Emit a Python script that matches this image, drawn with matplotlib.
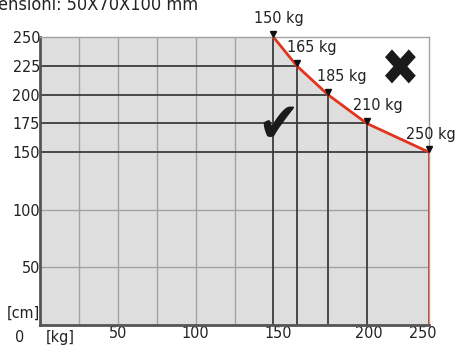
import matplotlib
matplotlib.use('Agg')
import matplotlib.pyplot as plt

plt.rcParams['font.family'] = ['DejaVu Sans']
plt.rcParams['font.stretch'] = 'condensed'

# max load per height
weights = [150, 165, 185, 210, 250]          # kg
heights = [250, 225, 200, 175, 150]          # cm
weight_labels = ['150 kg', '165 kg', '185 kg', '210 kg', '250 kg']
label_dx = [4, 11, 10, 8, 1]                 # px offset of the kg labels

ytick_vals = [50, 100, 150, 175, 200, 225, 250]
xtick_pos = [50, 100, 153, 211, 246]
xtick_txt = ['50', '100', '150', '200', '250']
light_grid_x = [25, 50, 75, 100, 125]
light_grid_y = [50, 100]

red = '#e2341d'
dark = '#3c3c3c'
light = '#a2a2a2'

fig = plt.figure(figsize=(4.57, 3.46), dpi=100)
ax = fig.add_axes([40/457, 21/346, 389/457, 288/346])
ax.set_xlim(0, 250)
ax.set_ylim(0, 250)

# grey area under the limit curve
fx = [0] + weights
fy = [heights[0]] + heights
ax.fill_between(fx, fy, 0, color='#dedede', lw=0, zorder=0)

# light grid
ax.vlines(light_grid_x, 0, 250, color=light, lw=1, zorder=1)
ax.hlines(light_grid_y, 0, 250, color=light, lw=1, zorder=1)
# dark grid up to the curve
ax.hlines(heights, 0, weights, color=dark, lw=1.3, zorder=2)
ax.vlines(weights[:-1], 0, heights[:-1], color=dark, lw=1.3, zorder=2)

# limit curve
ax.plot(weights, heights, color=red, lw=2, zorder=4, solid_capstyle='butt')
ax.vlines(weights[-1], 0, heights[-1], color=red, lw=2, zorder=4)
ax.plot(weights, [h + 2.5 for h in heights], marker='v', ls='none', color='#111111',
        ms=5, clip_on=False, zorder=5)

for w, h, s, dx in zip(weights, heights, weight_labels, label_dx):
    ax.annotate(s, (w, h), xytext=(dx, 13), textcoords='offset points',
                ha='center', va='center', fontsize=11.5, color='#222222',
                annotation_clip=False)

ax.text(153, 172, '\u2714', fontsize=40, ha='center', va='center',
        color='#1a1a1a', family='DejaVu Sans', zorder=6)
ax.text(231, 220, '\u2716', fontsize=37, ha='center', va='center',
        color='#1a1a1a', family='DejaVu Sans', zorder=6)

for side in ['top', 'right']:
    ax.spines[side].set_color(light)
    ax.spines[side].set_linewidth(1)
for side in ['left', 'bottom']:
    ax.spines[side].set_color('#555555')
    ax.spines[side].set_linewidth(2)

ax.set_yticks(ytick_vals)
ax.set_yticklabels([str(v) for v in ytick_vals])
ax.set_xticks(xtick_pos)
ax.set_xticklabels(xtick_txt)
ax.tick_params(length=0, labelsize=11.5, colors='#222222', pad=1)
ax.tick_params(axis='y', pad=0)

ax.text(-0.2, 4, '[cm]', ha='right', va='bottom', fontsize=11.5, color='#222222')
ax.text(-10, -4, '0', ha='right', va='top', fontsize=11.5, color='#222222')
ax.text(13, -4, '[kg]', ha='center', va='top', fontsize=11.5, color='#222222')

fig.text(-0.005, 1 - 10/346, 'ensioni: 50X70X100 mm', ha='left', va='baseline',
         fontsize=13, color='#222222')

fig.savefig('out.png', dpi=100)
